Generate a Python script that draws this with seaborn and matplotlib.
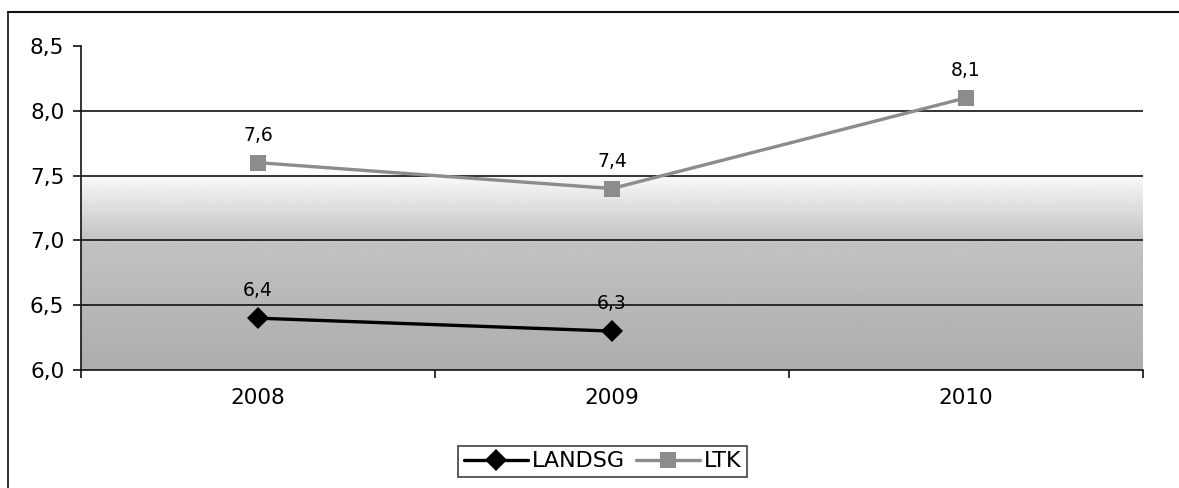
import numpy as np
import pandas as pd
import matplotlib
matplotlib.use("Agg")
import matplotlib.pyplot as plt
import seaborn as sns

years = ["2008", "2009", "2010"]
landsg = [6.4, 6.3, np.nan]
ltk = [7.6, 7.4, 8.1]
yticks = [6.0, 6.5, 7.0, 7.5, 8.0, 8.5]
ytick_labels = ["6,0", "6,5", "7,0", "7,5", "8,0", "8,5"]

sns.set_theme(style="white")
plt.rcParams['font.family'] = ['DejaVu Sans']
plt.rcParams['text.color'] = '#000000'
plt.rcParams['xtick.color'] = '#000000'
plt.rcParams['ytick.color'] = '#000000'

fig = plt.figure(figsize=(11.79, 4.88), dpi=100)
ax = fig.add_axes([81/1179, 1 - 370/488, (1143-81)/1179, (370-46)/488])

xpos = np.arange(len(years))
df = pd.DataFrame({"x": np.concatenate([xpos, xpos]),
                   "y": landsg + ltk,
                   "series": ["LANDSG"] * 3 + ["LTK"] * 3})

# gradient background
ymin, ymax = 6.0, 8.5
yy = np.linspace(ymax, ymin, 300)
def shade(v):
    if v >= 7.55:
        return 1.0
    if v >= 7.0:
        return 1.0 - (7.55 - v) / 0.55 * 0.24
    return 0.76 - (7.0 - v) / 1.0 * 0.08
vals = np.array([shade(v) for v in yy])[:, None]
ax.imshow(vals, cmap="gray", vmin=0, vmax=1, aspect="auto",
          extent=[-0.5, 2.5, ymin, ymax], zorder=0, interpolation="bilinear")

for yv in [6.5, 7.0, 7.5, 8.0]:
    ax.axhline(yv, color="#111111", lw=1.2, zorder=1)

sns.lineplot(data=df, x="x", y="y", hue="series", style="series",
             palette={"LANDSG": "#000000", "LTK": "#8c8c8c"},
             markers={"LANDSG": "D", "LTK": "s"},
             dashes={"LANDSG": "", "LTK": ""},
             markersize=11, linewidth=2.4, markeredgewidth=0,
             ax=ax, zorder=3, legend=True)

for x, v in zip(xpos, landsg):
    if not np.isnan(v):
        ax.annotate(f"{v:.1f}".replace(".", ","), (x, v), xytext=(0, 13),
                    textcoords="offset points", ha="center", va="bottom",
                    fontsize=13.5, color="#000000", zorder=4)
for x, v in zip(xpos, ltk):
    ax.annotate(f"{v:.1f}".replace(".", ","), (x, v), xytext=(0, 13),
                textcoords="offset points", ha="center", va="bottom",
                fontsize=13.5, color="#000000", zorder=4)

ax.set_xlim(-0.5, 2.5)
ax.set_ylim(ymin, ymax)
ax.set_yticks(yticks)
ax.set_yticklabels(ytick_labels, fontsize=15.5, color="#000000")
ax.set_xticks(xpos)
ax.set_xticklabels(years, fontsize=15.5, color="#000000")
ax.set_xticks([-0.5, 0.5, 1.5, 2.5], minor=True)
ax.tick_params(axis="x", which="major", length=0, pad=13)
ax.tick_params(axis="x", which="minor", length=6, width=1.2, color="#111111", direction="out", bottom=True)
ax.tick_params(axis="y", length=6, width=1.2, color="#111111", direction="out", left=True, pad=6)
ax.set_xlabel("")
ax.set_ylabel("")
for s in ["top", "right"]:
    ax.spines[s].set_visible(False)
for s in ["left", "bottom"]:
    ax.spines[s].set_color("#111111")
    ax.spines[s].set_linewidth(1.2)

leg = ax.legend(loc="upper center", bbox_to_anchor=(0.491, -0.2), ncol=2,
                frameon=True, fontsize=16, handlelength=2.9, handletextpad=0.15,
                columnspacing=0.5, borderpad=0.25, fancybox=False)
leg.get_frame().set_edgecolor("#111111")
leg.get_frame().set_linewidth(1.2)
leg.set_title(None)
for t in leg.get_texts():
    t.set_color("#000000")

# outer border (top and left)
fig.add_artist(plt.Line2D([8/1179, 1.0], [1 - 12/488, 1 - 12/488], color="#111111", lw=1.5))
fig.add_artist(plt.Line2D([8/1179, 8/1179], [0, 1 - 12/488], color="#111111", lw=1.2))

fig.savefig("out.png", dpi=100)
